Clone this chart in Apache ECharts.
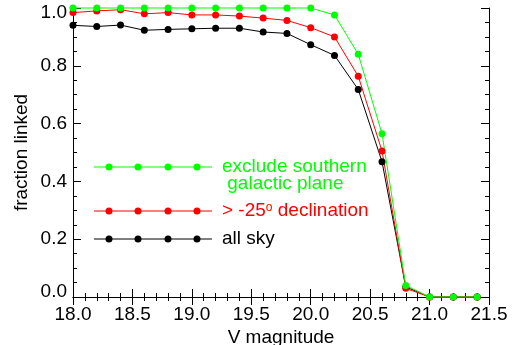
<!DOCTYPE html>
<html><head><meta charset="utf-8">
<script src="https://cdn.jsdelivr.net/npm/echarts@6/dist/echarts.min.js"></script>
<style>html,body{margin:0;padding:0;background:#fff}#c{width:515px;height:345px}</style>
</head><body><div id="c"></div>
<script>
var vmag = [18.0,18.2,18.4,18.6,18.8,19.0,19.2,19.4,19.6,19.8,20.0,20.2,20.4,20.6,20.8,21.0,21.2,21.4];
var allSky = [0.940,0.936,0.941,0.923,0.926,0.928,0.930,0.930,0.917,0.912,0.873,0.836,0.718,0.468,0.035,0,0,0];
var decl = [0.984,0.990,0.994,0.980,0.984,0.976,0.976,0.972,0.965,0.957,0.932,0.900,0.764,0.505,0.030,0,0,0];
var excl = [1.0,1.0,1.0,1.0,1.0,1.0,1.0,1.0,1.0,1.0,1.0,0.976,0.840,0.565,0.040,0,0,0];
var xTicks = [18.0,18.5,19.0,19.5,20.0,20.5,21.0,21.5];
var yTicks = [0.0,0.2,0.4,0.6,0.8,1.0];
var legendNames = ['exclude southern\n galactic plane', '> -25{sup|o} declination', 'all sky'];
var colors = ['#00ff00','#ff0000','#000000'];

var FONT = 'Liberation Sans';
var chart = echarts.init(document.getElementById('c'));
function pairs(ys){return vmag.map(function(x,i){return [x,ys[i]];});}
function ser(ys,c){return {type:'line',data:pairs(ys),symbol:'circle',symbolSize:7,
  lineStyle:{color:c,width:1},itemStyle:{color:c},animation:false,clip:false,z:3};}
var axisCommon = {axisLine:{lineStyle:{color:'#000',width:1}},splitLine:{show:false}};
var legendGraphics = [];
var ly = [167, 211, 239];
for (var k=0;k<3;k++){
  legendGraphics.push({type:'line',shape:{x1:94,y1:ly[k],x2:212,y2:ly[k]},style:{stroke:colors[k],lineWidth:1}});
  [109,138,168,197].forEach(function(x){
    legendGraphics.push({type:'circle',shape:{cx:x,cy:ly[k],r:3.5},style:{fill:colors[k]}});
  });
  legendGraphics.push({type:'text',left:222,top:ly[k]-10,style:{text:legendNames[k],fill:colors[k],
    font:'19px '+FONT,lineHeight:17,rich:{sup:{fontSize:12,verticalAlign:'top',padding:[0,0,8,0],fill:colors[k],fontFamily:FONT}}}});
}
function fmt(v){return v.toFixed(1);}
function yfmt(v){
  var s = v.toFixed(1);
  if (v === yTicks[0] || v === yTicks[yTicks.length-1]) return '{e|' + s + '}';
  return s;
}
chart.setOption({
  animation:false,
  grid:{left:73,right:26,top:8,bottom:48,containLabel:false,outerBoundsMode:'none'},
  xAxis:[
    Object.assign({type:'value',min:xTicks[0],max:xTicks[xTicks.length-1],interval:0.5,position:'bottom',
      axisTick:{inside:true,length:8,lineStyle:{color:'#000'}},
      minorTick:{show:true,splitNumber:5,length:4,lineStyle:{color:'#000'}},
      axisLabel:{fontFamily:FONT,fontSize:19,color:'#000',margin:8,formatter:fmt},
      name:'V magnitude',nameLocation:'middle',nameGap:31,nameMoveOverlap:false,
      nameTextStyle:{fontFamily:FONT,fontSize:19,color:'#000'}},axisCommon),
    Object.assign({type:'value',min:xTicks[0],max:xTicks[xTicks.length-1],interval:0.5,position:'top',
      axisTick:{inside:true,length:8,lineStyle:{color:'#000'}},
      minorTick:{show:true,splitNumber:5,length:4,lineStyle:{color:'#000'}},
      axisLabel:{show:false}},axisCommon)
  ],
  yAxis:[
    Object.assign({type:'value',min:yTicks[0],max:yTicks[yTicks.length-1],interval:0.2,position:'left',
      axisTick:{inside:true,length:8,lineStyle:{color:'#000'}},
      minorTick:{show:true,splitNumber:4,length:4,lineStyle:{color:'#000'}},
      axisLabel:{fontFamily:FONT,fontSize:19,color:'#000',margin:6,formatter:yfmt,
        verticalAlignMinLabel:'bottom',verticalAlignMaxLabel:'top',
        rich:{e:{fontFamily:FONT,fontSize:19,color:'#000',lineHeight:10}}},
      name:'fraction linked',nameLocation:'middle',nameGap:42,nameMoveOverlap:false,
      nameTextStyle:{fontFamily:FONT,fontSize:19,color:'#000'}},axisCommon),
    Object.assign({type:'value',min:yTicks[0],max:yTicks[yTicks.length-1],interval:0.2,position:'right',
      axisTick:{inside:true,length:8,lineStyle:{color:'#000'}},
      minorTick:{show:true,splitNumber:4,length:4,lineStyle:{color:'#000'}},
      axisLabel:{show:false}},axisCommon)
  ],
  series:[ser(allSky,colors[2]),ser(decl,colors[1]),ser(excl,colors[0])],
  graphic:legendGraphics
});
</script></body></html>
